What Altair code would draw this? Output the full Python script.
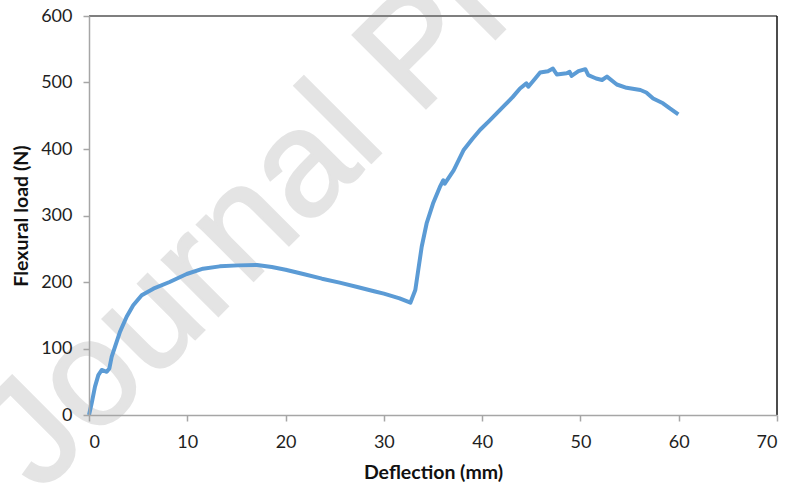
import altair as alt
import pandas as pd

deflection = [0, 0.27, 0.61, 0.95, 1.29, 1.8, 2.07, 2.31, 2.65, 3.15,
              3.83, 4.5, 5.36, 6.55, 8.2, 9.94, 11.6, 13.3, 15.2, 17.1,
              18.6, 20.0, 21.8, 23.7, 25.5, 27.3, 29.0, 30.0, 31.6, 32.7,
              33.2, 33.5, 33.85, 34.35, 35.0, 35.7, 36.05, 36.2, 37.1, 38.1,
              39.0, 39.8, 40.7, 41.5, 42.3, 43.1, 43.85, 44.5, 44.7, 45.4,
              45.9, 46.7, 47.2, 47.6, 48.6, 48.9, 49.1, 49.8, 50.5, 50.8,
              51.6, 52.2, 52.7, 53.7, 54.7, 56.1, 56.7, 57.4, 58.4, 59.1,
              59.96]
load = [0, 17.6, 42.6, 60, 67.7, 65, 70, 87.7, 102.7, 125,
        147.8, 165, 180, 190, 200, 212, 220, 223.5, 225, 225.5,
        222.5, 218.5, 212, 205, 199, 192.5, 186, 182.5, 175.4, 168.9,
        188, 218, 253, 288, 318, 343, 353, 348, 368, 398,
        415, 429, 442, 454, 466, 478, 491, 498.7, 493.7, 506,
        515, 517, 521, 512, 513.8, 516, 510, 517, 520, 511,
        506, 503.8, 508.8, 497, 492, 488.7, 485, 476, 468.7, 461,
        452]

x_ticks = [0, 10, 20, 30, 40, 50, 60, 70]
y_ticks = [0, 100, 200, 300, 400, 500, 600]
watermark_text = "Journal Pre-proof"

W, H = 688, 399

df = pd.DataFrame({"Deflection": deflection, "Load": load, "i": range(len(load))})

label_font = "Lato"

line = alt.Chart(df).mark_line(color="#5b9bd5", strokeWidth=4, strokeJoin="round").encode(
    x=alt.X("Deflection:Q",
            scale=alt.Scale(domain=[0, 70], nice=False, zero=False),
            axis=alt.Axis(values=x_ticks, title="Deflection (mm)", grid=False,
                          tickSize=6, tickColor="#a6a6a6", domainColor="#a6a6a6",
                          domainWidth=1.5, tickWidth=1.5,
                          labelFont=label_font, labelFontSize=18, labelColor="#1f1f1f",
                          labelPadding=12,
                          titleFont=label_font, titleFontSize=19.5, titleFontWeight="bold",
                          titleColor="#111111", titlePadding=12, zindex=1)),
    y=alt.Y("Load:Q",
            scale=alt.Scale(domain=[0, 600], nice=False),
            axis=alt.Axis(values=y_ticks, title="Flexural load (N)", grid=False,
                          tickSize=6, tickColor="#a6a6a6", domainColor="#a6a6a6",
                          domainWidth=1.5, tickWidth=1.5,
                          labelFont=label_font, labelFontSize=18, labelColor="#1f1f1f",
                          labelPadding=11,
                          titleFont=label_font, titleFontSize=19.5, titleFontWeight="bold",
                          titleColor="#111111", titlePadding=9, zindex=1)),
    order="i:Q",
)

one = alt.Data(values=[{"k": 1}])

watermark = alt.Chart(one).mark_text(
    angle=315, align="left", baseline="alphabetic",
    font="Liberation Sans", fontSize=150, color="#e4e4e4",
    stroke="#e4e4e4", strokeWidth=2.5
).encode(
    x=alt.value(-49), y=alt.value(478), text=alt.value(watermark_text)
)

top_rule = alt.Chart(one).mark_rule(color="#7f7f7f", strokeWidth=2).encode(
    x=alt.value(0), x2=alt.value(W), y=alt.value(0)
)
right_rule = alt.Chart(one).mark_rule(color="#111111", strokeWidth=1.5).encode(
    x=alt.value(W), y=alt.value(0), y2=alt.value(H)
)

chart = alt.layer(watermark, line, top_rule, right_rule).properties(
    width=W, height=H,
    autosize=alt.AutoSizeParams(type="none"),
    padding={"left": 89, "top": 16, "right": 10, "bottom": 69},
    background="white",
).configure_view(stroke=None)

chart.save("out.html", embed_options={"renderer": "svg", "actions": False})
